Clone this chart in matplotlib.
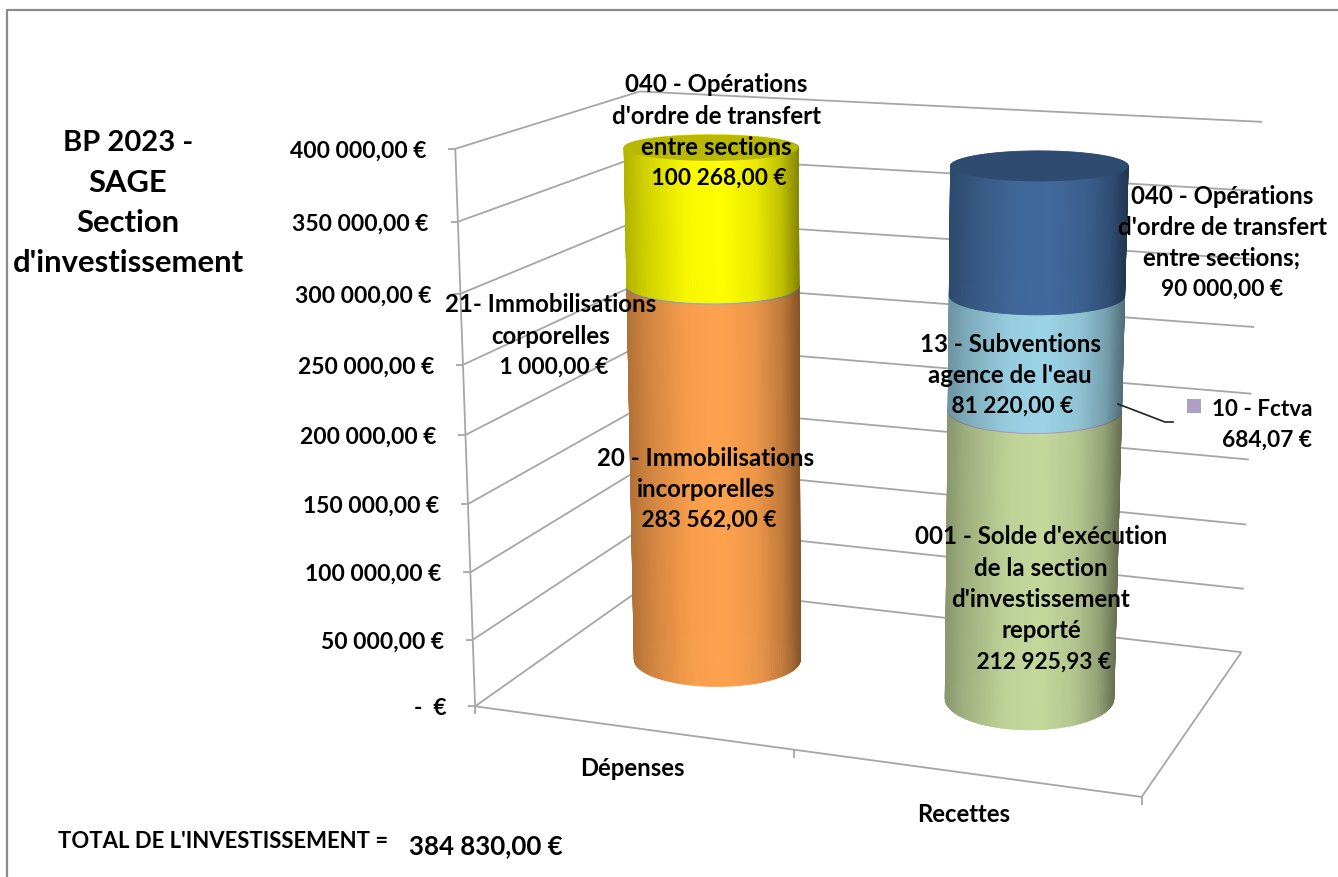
import numpy as np
import matplotlib
matplotlib.use('Agg')
import matplotlib.pyplot as plt
from matplotlib.collections import PolyCollection

plt.rcParams['font.family'] = ['Lato', 'DejaVu Sans']

# Chart values
categories = ['Dépenses', 'Recettes']
depenses_values = [283562.00, 1000.00, 100268.00]
depenses_names = [['20 - Immobilisations', 'incorporelles'],
                  ['21- Immobilisations', 'corporelles'],
                  ['040 - Opérations', "d'ordre de transfert", 'entre sections']]
depenses_colors = ['#ffa24e', '#9fb0c8', '#ffff00']
recettes_values = [212925.93, 684.07, 81220.00, 90000.00]
recettes_names = [["001 - Solde d'exécution", 'de la section', "d'investissement", 'reporté'],
                  ['10 - Fctva'],
                  ['13 - Subventions', "agence de l'eau"],
                  ['040 - Opérations', "d'ordre de transfert", 'entre sections;']]
recettes_colors = ['#c4d89c', '#ae9fc6', '#9cd3e6', '#41699c']
y_ticks = [0, 50000, 100000, 150000, 200000, 250000, 300000, 350000, 400000]
y_max = 400000
total_invest = 384830.00
title_lines = ['BP 2023 -', 'SAGE', 'Section', "d'investissement"]


def eur(v):
    return f'{v:,.2f}'.replace(',', ' ').replace('.', ',') + ' €'


# perspective box: corners of the 3D plot as they land on the image
box_3d = [(0, 0, 0), (1, 0, 0), (1, 1, 0), (0, 1, 0), (0, 0, 1), (0, 1, 1), (1, 1, 1)]
box_px = [(476, 707), (1141, 797), (1242, 652), (648, 583), (455, 148), (640, 92), (1262, 122)]
rows = []
for (X, Y, Z), (u, v) in zip(box_3d, box_px):
    rows.append([X, Y, Z, 1, 0, 0, 0, 0, -u * X, -u * Y, -u * Z, -u])
    rows.append([0, 0, 0, 0, X, Y, Z, 1, -v * X, -v * Y, -v * Z, -v])
cam = np.linalg.svd(np.array(rows, dtype=float))[2][-1].reshape(3, 4)


def project(x, d, value):
    x, d, value = np.broadcast_arrays(np.asarray(x, float), np.asarray(d, float), np.asarray(value, float))
    pts = np.stack([x, d, value / y_max, np.ones_like(x)], axis=-1) @ cam.T
    return pts[..., 0] / pts[..., 2], pts[..., 1] / pts[..., 2]


def seg(ax, p, q, lw=1.3, color='#a6a6a6', zorder=1):
    ax.plot([p[0], q[0]], [p[1], q[1]], color=color, lw=lw, zorder=zorder, solid_capstyle='butt')


def shade(hex_color, s):
    base = np.array(matplotlib.colors.to_rgb(hex_color))
    k = np.interp(s, [0, 0.12, 0.35, 0.55, 0.75, 0.9, 1], [0.70, 0.82, 0.97, 1.0, 0.92, 0.75, 0.52])
    return np.clip(base * k[:, None], 0, 1)


# rim of the cylinder at a given value, as a flat ellipse on screen (Excel keeps them level)
def ring(cx, value, rx, rd, theta):
    mx, my = project(cx, 0.5, value)
    a = (project(cx + rx, 0.5, value)[0] - project(cx - rx, 0.5, value)[0]) / 2
    b = (project(cx, 0.5 - rd, value)[1] - project(cx, 0.5 + rd, value)[1]) / 2
    return mx + a * np.cos(theta), my + b * np.sin(theta)


def cylinder(ax, cx, values, colors, rx, rd):
    theta = np.linspace(0, 2 * np.pi, 181)
    base = 0.0
    for val, col in zip(values, colors):
        x0, y0 = ring(cx, base, rx, rd, theta)
        x1, y1 = ring(cx, base + val, rx, rd, theta)
        polys, mid_x, depth = [], [], []
        for i in range(len(theta) - 1):
            polys.append([(x0[i], y0[i]), (x0[i + 1], y0[i + 1]), (x1[i + 1], y1[i + 1]), (x1[i], y1[i])])
            mid_x.append((x0[i] + x0[i + 1] + x1[i] + x1[i + 1]) / 4)
            depth.append(np.sin((theta[i] + theta[i + 1]) / 2))
        mid_x = np.array(mid_x)
        s = (mid_x - mid_x.min()) / (mid_x.max() - mid_x.min())
        order = np.argsort(depth)
        fc = shade(col, s)[order]
        ax.add_collection(PolyCollection([polys[i] for i in order], facecolors=fc, edgecolors=fc,
                                         linewidths=0.6, zorder=3))
        base += val
    top_x, top_y = ring(cx, base, rx, rd, theta)
    cap = np.clip(np.array(matplotlib.colors.to_rgb(colors[-1])) * 0.72, 0, 1)
    ax.fill(top_x, top_y, color=cap, lw=0, zorder=3)


# Lato digits run wider than the original font, so lines of figures get a smaller size
def label(ax, x, y, lines, size=17.3, step=31.2, ha='center', value_size=16.4):
    for i, line in enumerate(lines):
        fs = value_size if '€' in line else size
        ax.text(x, y + i * step, line, ha=ha, va='center', fontsize=fs, fontweight='bold', zorder=5,
                color='black')


fig = plt.figure(figsize=(13.38, 8.77), dpi=100)
ax = fig.add_axes([0, 0, 1, 1])
ax.set_xlim(0, 1338)
ax.set_ylim(877, 0)
ax.axis('off')

# outer chart border
ax.plot([7, 7, 1338], [877, 10, 10], color='#8c8c8c', lw=1.6, zorder=1)

# walls and floor
for tick in y_ticks:
    front = project(0, 0, tick)
    back = project(0, 1, tick)
    right = project(1, 1, tick)
    seg(ax, front, back)
    seg(ax, back, right)
    seg(ax, (front[0] - 7, front[1]), front)
    txt = '-  €' if tick == 0 else eur(tick)
    ax.text(front[0] - 29, front[1] + 2, txt, ha='right', va='center', fontsize=16.5, fontweight='bold',
            color='black', zorder=5)
seg(ax, project(0, 0, 0), project(0, 0, y_max))
seg(ax, project(0, 0, 0), project(1, 0, 0))
seg(ax, project(1, 0, 0), project(1, 1, 0))
for pos in [0, 0.5, 1]:
    px, py = project(pos, 0, 0)
    seg(ax, (px, py), (px, py + 8))

cylinder(ax, 0.254, depenses_values, depenses_colors, rx=0.138, rd=0.21)
cylinder(ax, 0.752, recettes_values, recettes_colors, rx=0.129, rd=0.225)

# category labels
ax.text(632, 769, categories[0], ha='center', va='center', fontsize=17.2, fontweight='bold', color='black')
ax.text(964, 814, categories[1], ha='center', va='center', fontsize=17.2, fontweight='bold', color='black')

# data labels
label(ax, 716, 85, depenses_names[2] + [' ' + eur(depenses_values[2])])
label(ax, 551, 305, depenses_names[1] + [' ' + eur(depenses_values[1])])
label(ax, 706, 458, depenses_names[0] + [' ' + eur(depenses_values[0])])
label(ax, 1222, 196, recettes_names[3] + [eur(recettes_values[3])])
label(ax, 1010, 344, recettes_names[2] + [' ' + eur(recettes_values[2])])
label(ax, 1041, 537, recettes_names[0] + [' ' + eur(recettes_values[0])])
label(ax, 1312, 409, recettes_names[1] + [eur(recettes_values[1])], size=16.2, ha='right')

# leader line and key for the small segment
ax.plot([1118, 1165, 1173], [404, 422, 422], color='#222222', lw=1.2, zorder=4)
ax.fill([1187, 1201, 1201, 1187], [399, 399, 413, 413], color=recettes_colors[1], lw=0, zorder=4)

# title and total
label(ax, 128, 143, title_lines[:1], size=21)
label(ax, 128, 183, title_lines[1:], size=22.3, step=40)
ax.text(58, 842, "TOTAL DE L'INVESTISSEMENT =", ha='left', va='center', fontsize=15.9, fontweight='bold',
        color='black')
ax.text(409, 846, eur(total_invest), ha='left', va='center', fontsize=18.6, fontweight='bold', color='black')

fig.savefig('out.png', dpi=100, facecolor='white')
